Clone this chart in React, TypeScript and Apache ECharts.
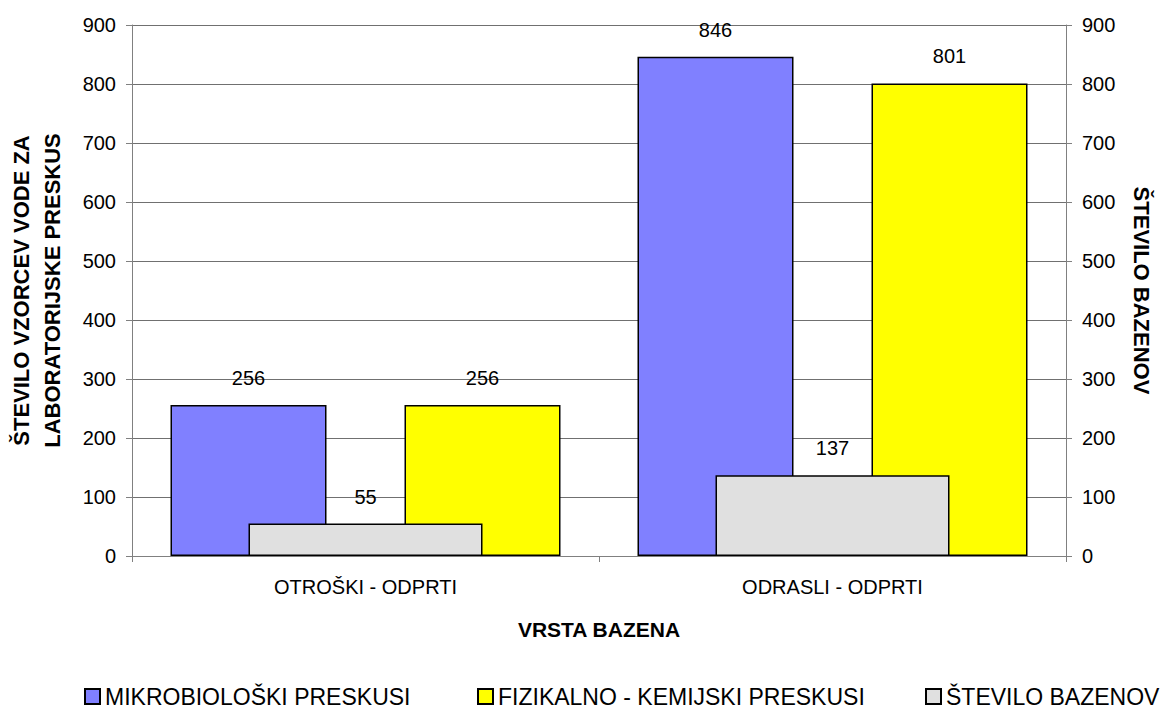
import React, { useEffect, useRef } from "react";
import * as echarts from "echarts";

const categories = ["OTROŠKI - ODPRTI", "ODRASLI - ODPRTI"];
const mikrobioloski = [256, 846];
const fizikalno = [256, 801];
const steviloBazenov = [55, 137];
const yTicks = { min: 0, max: 900, interval: 100 };

const FONT = "Liberation Sans, Arial, sans-serif";

export default function App() {
  const ref = useRef<HTMLDivElement>(null);
  useEffect(() => {
    if (!ref.current) return;
    const chart = echarts.init(ref.current, undefined, { renderer: "svg" });
    const label = {
      show: true,
      position: "top" as const,
      distance: 17,
      color: "#000",
      fontSize: 20,
      fontFamily: FONT,
    };
    const legendBase = {
      top: 685,
      itemWidth: 15,
      itemHeight: 15,
      icon: "rect",
      padding: 0,
      textStyle: { fontSize: 23, color: "#000", fontFamily: FONT },
    };
    chart.setOption({
      animation: false,
      textStyle: { fontFamily: FONT },
      grid: { left: 132, right: 99, top: 25, bottom: 154, containLabel: false, outerBoundsMode: "none" },
      legend: [
        { ...legendBase, data: ["MIKROBIOLOŠKI PRESKUSI"], left: 84 },
        { ...legendBase, data: ["FIZIKALNO - KEMIJSKI PRESKUSI"], left: 477 },
        { ...legendBase, data: ["ŠTEVILO BAZENOV"], left: 925 },
      ],
      xAxis: [
        {
          type: "category",
          data: categories,
          name: "VRSTA BAZENA",
          nameLocation: "middle",
          nameGap: 63,
          nameTextStyle: { fontSize: 21, fontWeight: "bold", color: "#000", fontFamily: FONT },
          axisLine: { lineStyle: { color: "#808080", width: 1 } },
          axisTick: { show: true, length: 6, lineStyle: { color: "#808080" } },
          axisLabel: { color: "#000", fontSize: 20, margin: 21, fontFamily: FONT },
        },
        {
          type: "category",
          data: categories,
          show: false,
        },
      ],
      yAxis: [
        {
          type: "value",
          min: yTicks.min,
          max: yTicks.max,
          interval: yTicks.interval,
          name: "ŠTEVILO VZORCEV VODE ZA\nLABORATORIJSKE PRESKUS",
          nameLocation: "middle",
          nameRotate: 90,
          nameGap: 64,
          nameTextStyle: {
            fontSize: 22,
            fontWeight: "bold",
            color: "#000",
            lineHeight: 31,
            fontFamily: FONT,
          },
          axisLine: { show: true, lineStyle: { color: "#808080", width: 1 } },
          axisTick: { show: true, length: 6, lineStyle: { color: "#808080" } },
          axisLabel: { color: "#000", fontSize: 20, margin: 16, fontFamily: FONT },
          splitLine: { show: true, lineStyle: { color: "#707070", width: 1 } },
        },
        {
          type: "value",
          position: "right",
          min: yTicks.min,
          max: yTicks.max,
          interval: yTicks.interval,
          name: "ŠTEVILO BAZENOV",
          nameLocation: "middle",
          nameRotate: -90,
          nameGap: 64,
          nameTextStyle: { fontSize: 22, fontWeight: "bold", color: "#000", fontFamily: FONT },
          axisLine: { show: true, lineStyle: { color: "#808080", width: 1 } },
          axisTick: { show: true, length: 6, lineStyle: { color: "#808080" } },
          axisLabel: { color: "#000", fontSize: 20, margin: 16, fontFamily: FONT },
          splitLine: { show: false },
        },
      ],
      series: [
        {
          name: "MIKROBIOLOŠKI PRESKUSI",
          type: "bar",
          xAxisIndex: 0,
          yAxisIndex: 0,
          data: mikrobioloski,
          barWidth: 156,
          barGap: "50%",
          itemStyle: { color: "#8080FF", borderColor: "#000", borderWidth: 1.5 },
          label,
          z: 2,
        },
        {
          name: "FIZIKALNO - KEMIJSKI PRESKUSI",
          type: "bar",
          xAxisIndex: 0,
          yAxisIndex: 0,
          data: fizikalno,
          barWidth: 156,
          barGap: "50%",
          itemStyle: { color: "#FFFF00", borderColor: "#000", borderWidth: 1.5 },
          label,
          z: 2,
        },
        {
          name: "ŠTEVILO BAZENOV",
          type: "bar",
          xAxisIndex: 1,
          yAxisIndex: 1,
          data: steviloBazenov,
          barWidth: 234,
          itemStyle: { color: "#E0E0E0", borderColor: "#000", borderWidth: 1.5 },
          label,
          z: 3,
        },
      ],
    });
    return () => chart.dispose();
  }, []);
  return <div ref={ref} style={{ width: 1165, height: 710, position: "absolute", left: 0, top: 0 }} />;
}
